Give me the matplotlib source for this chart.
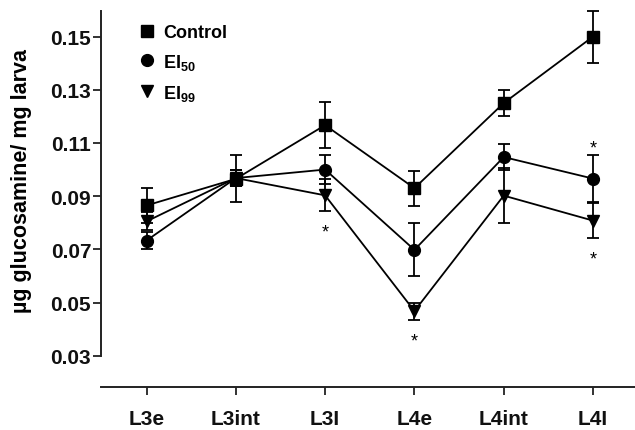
import numpy as np
import matplotlib
matplotlib.use('Agg')
import matplotlib.pyplot as plt

plt.rcParams['font.family'] = ['Liberation Sans', 'DejaVu Sans']
plt.rcParams['font.weight'] = 'bold'
plt.rcParams['mathtext.fontset'] = 'custom'
plt.rcParams['mathtext.rm'] = 'Liberation Sans:bold'
plt.rcParams['mathtext.bf'] = 'Liberation Sans:bold'

# data
stages = ['L3e', 'L3int', 'L3l', 'L4e', 'L4int', 'L4l']
stage_labels = ['L3e', 'L3int', 'L3I', 'L4e', 'L4int', 'L4I']

control = [0.0865, 0.0965, 0.1167, 0.0930, 0.1250, 0.1500]
control_err = [0.0065, 0.0088, 0.0086, 0.0066, 0.0048, 0.0098]
ei50 = [0.0733, 0.0968, 0.1000, 0.0698, 0.1047, 0.0966]
ei50_err = [0.0032, 0.0030, 0.0055, 0.0100, 0.0050, 0.0088]
ei99 = [0.0805, 0.0968, 0.0903, 0.0468, 0.0902, 0.0808]
ei99_err = [0.0034, 0.0030, 0.0060, 0.0032, 0.0102, 0.0066]

yticks = [0.03, 0.05, 0.07, 0.09, 0.11, 0.13, 0.15]
ytick_labels = ['0.03', '0.05', '0.07', '0.09', '0.11', '0.13', '0.15']

# significance stars: (series, stage index, side)
stars = [('ei99', 2, 'below'), ('ei99', 3, 'below'),
         ('ei50', 5, 'above'), ('ei99', 5, 'below')]

series = {
    'control': (control, control_err, 's', 'Control'),
    'ei50': (ei50, ei50_err, 'o', r'EI$_{\mathbf{50}}$'),
    'ei99': (ei99, ei99_err, 'v', r'EI$_{\mathbf{99}}$'),
}

fig = plt.figure(figsize=(6.35, 4.31), dpi=100)
ax = fig.add_axes([0.159, 0.1005, 0.841, 0.8715])

x = np.arange(len(stages))
handles = []
for key, (vals, errs, mk, lab) in series.items():
    ax.plot(x, vals, color='black', lw=1.3, zorder=2)
    ax.errorbar(x, vals, yerr=errs, fmt='none', ecolor='black', elinewidth=1.3,
                capsize=4.5, capthick=1.3, zorder=3, clip_on=False)
    h, = ax.plot(x, vals, ls='none', marker=mk, ms=8 if mk != 'o' else 8.5,
                 color='black', zorder=4, label=lab)
    handles.append(h)

for key, i, side in stars:
    vals, errs = series[key][0], series[key][1]
    if side == 'above':
        ax.annotate('*', (x[i], vals[i] + errs[i]), xytext=(0, -1),
                    textcoords='offset points', ha='center', va='bottom',
                    fontsize=13, fontweight='normal')
    else:
        ax.annotate('*', (x[i], vals[i] - errs[i]), xytext=(0, -9),
                    textcoords='offset points', ha='center', va='top',
                    fontsize=13, fontweight='normal')

ax.set_xlim(-0.51, 5.47)
ax.set_ylim(0.01835, 0.1596)
ax.set_xticks(x)
ax.set_xticklabels(stage_labels)
ax.set_yticks(yticks)
ax.set_yticklabels(ytick_labels)
ax.tick_params(axis='both', labelsize=15, width=1.3, length=6, color='#222222',
               labelcolor='#111111')
ax.tick_params(axis='x', pad=10)
ax.tick_params(axis='y', pad=1)
for s in ['top', 'right']:
    ax.spines[s].set_visible(False)
for s in ['left', 'bottom']:
    ax.spines[s].set_linewidth(1.4)
    ax.spines[s].set_color('#222222')
ax.spines['left'].set_bounds(0.03, 0.1596)
ax.set_ylabel('µg glucosamine/ mg larva', fontsize=15.5, fontweight='bold')
ax.yaxis.set_label_coords(-0.13, 0.5515)

ax.legend(handles=handles, loc='upper left', bbox_to_anchor=(0.055, 0.99),
          frameon=False, fontsize=13, handlelength=0.8, handletextpad=0.5,
          labelspacing=0.6, borderpad=0.0, markerscale=1.0)

fig.savefig('out.png', dpi=100)
